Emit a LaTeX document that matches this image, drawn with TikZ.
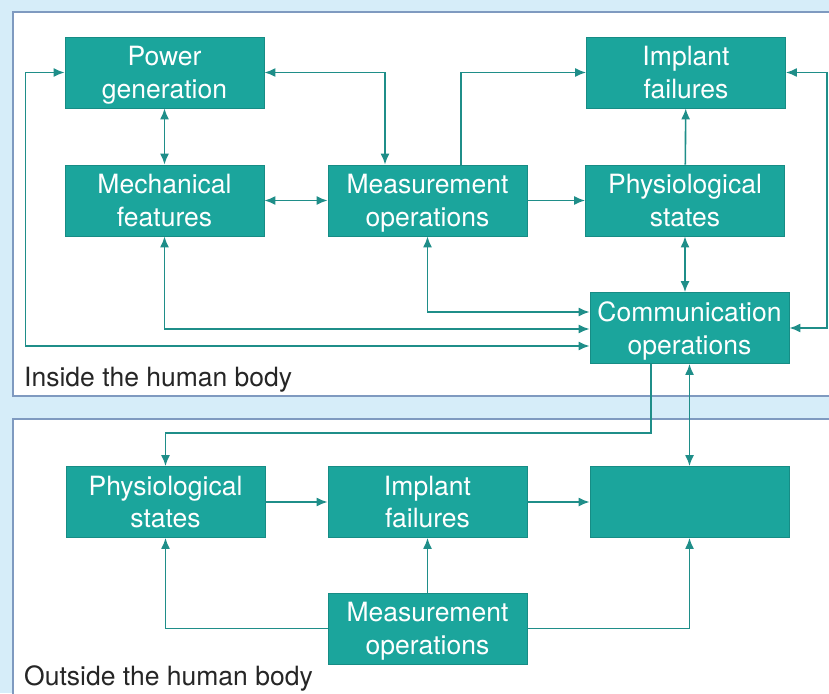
\documentclass[tikz,border=0pt]{standalone}
\usepackage{fontspec}
\setmainfont{TeX Gyre Heros}
\usetikzlibrary{arrows.meta,positioning,calc}
\definecolor{boxteal}{HTML}{1BA59C}
\definecolor{boxedge}{HTML}{178C85}
\definecolor{linkteal}{HTML}{1F8E89}
\definecolor{panelline}{HTML}{7F9AC0}
\definecolor{panelbg}{HTML}{D6EDF9}

\begin{document}
\begin{tikzpicture}[x=1pt, y=-1pt,
  block/.style={draw=boxedge, fill=boxteal, line width=0.8pt, minimum width=199pt,
    minimum height=71pt, align=center, text=white, inner sep=0pt, text depth=0pt,
    font=\fontsize{26.5}{32.5}\selectfont},
  flow/.style={draw=linkteal, line width=1.6pt, -{Latex[length=11pt,width=9pt]}},
  both/.style={flow, {Latex[length=11pt,width=9pt]}-{Latex[length=11pt,width=9pt]}},
  panel/.style={draw=panelline, fill=white, line width=1.8pt},
  where/.style={anchor=base west, inner sep=0pt, font=\fontsize{26.5}{30}\selectfont, text=black!85},
]
\useasboundingbox (0,0) rectangle (829,693);
\begin{scope}
\clip (0,0) rectangle (829,693);
\fill[panelbg] (0,0) rectangle (829,693);
\draw[panel] (13,12) rectangle (850,396);
\draw[panel] (13,419) rectangle (850,720);
\end{scope}

% inside the body
\node[block] (power)    at (164.5,72.5)  {Power\\generation};
\node[block] (implantA) at (686,72.5)    {Implant\\failures};
\node[block] (mech)     at (164.5,200.5) {Mechanical\\features};
\node[block] (measA)    at (427.5,200.5) {Measurement\\operations};
\node[block] (physA)    at (685,200.5)   {Physiological\\states};
\node[block] (comm)     at (689.5,328)   {Communication\\operations};
\node[where] (inside)   at (24,386)      {Inside the human body};

% outside the body
\node[block] (physB)    at (165.5,502)   {Physiological\\states};
\node[block] (implantB) at (427.5,502)   {Implant\\failures};
\node[block] (empty)    at (689.5,502)   {};
\node[block] (measB)    at (427.5,628.5) {Measurement\\operations};
\node[where] (outside)  at (24,685)      {Outside the human body};

\draw[both] (power.west) -- ++(-39,0) |- ([yshift=-18pt]comm.west);
\draw[both] (mech.south) |- ([yshift=-1pt]comm.west);
\draw[both] (measA.south) |- ([yshift=16pt]comm.west);
\draw[both] (power) -- (mech);
\draw[both] (mech) -- (measA);
\draw[both] (power.east) -| ([xshift=-42.5pt]measA.north);
\draw[flow] ([xshift=33.5pt]measA.north) |- (implantA.west);
\draw[flow] (measA) -- (physA);
\draw[flow] (physA) -- (implantA);
\draw[both] (physA.south) -- (physA.south |- comm.north);
\draw[both] (implantA.east) -- ++(41,0) |- (comm.east);
\draw[flow] ([xshift=-38.5pt]comm.south) -- ++(0,69) -| (physB.north);
\draw[both] (comm.south) -- (empty.north);
\draw[flow] (physB) -- (implantB);
\draw[flow] (implantB) -- (empty);
\draw[flow] (measB) -- (implantB);
\draw[flow] (measB.west) -| (physB.south);
\draw[flow] (measB.east) -| (empty.south);
\end{tikzpicture}
\end{document}
